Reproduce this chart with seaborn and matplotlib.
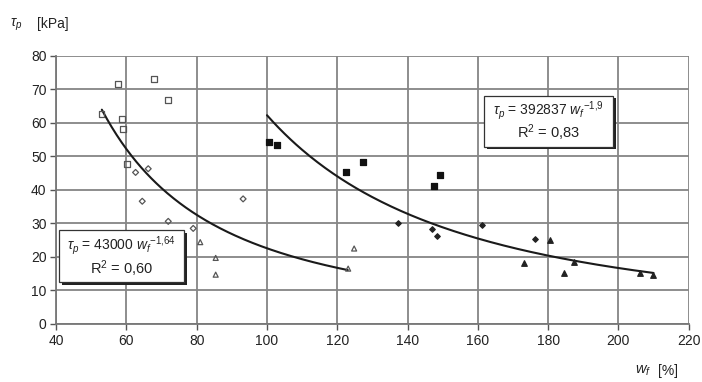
import numpy as np
import pandas as pd
import matplotlib
matplotlib.use("Agg")
import matplotlib.pyplot as plt
import seaborn as sns
from matplotlib.patches import Rectangle

# ---- data ----
open_sq_x = [52.9, 57.6, 58.6, 59.1, 60.2, 67.9, 71.9]
open_sq_y = [62.7, 71.7, 61.2, 58.2, 47.7, 73.2, 66.9]
open_di_x = [62.6, 64.5, 66.2, 71.9, 79.0, 93.2]
open_di_y = [45.2, 36.6, 46.3, 30.6, 28.5, 37.3]
open_tr_x = [81.0, 85.4, 85.4, 123.1, 124.8]
open_tr_y = [24.4, 19.7, 14.7, 16.5, 22.5]
fill_sq_x = [100.6, 102.9, 122.4, 127.4, 147.6, 149.2]
fill_sq_y = [54.2, 53.3, 45.3, 48.2, 41.1, 44.3]
fill_di_x = [137.2, 147.1, 148.4, 161.3, 176.4]
fill_di_y = [30.2, 28.4, 26.2, 29.4, 25.2]
fill_tr_x = [173.1, 180.6, 184.6, 187.3, 206.1, 209.9]
fill_tr_y = [18.2, 25.0, 15.1, 18.6, 15.1, 14.6]

# trend lines as stated on the chart: tau = a * w^b
left_a, left_b, left_range = 43000, -1.64, (53, 123)
right_a, right_b, right_range = 392837, -1.9, (100, 210)
left_label = [r"$\tau_p$ = 43000 $w_f$$^{-1{,}64}$", r"R$^2$ = 0,60"]
right_label = [r"$\tau_p$ = 392837 $w_f$$^{-1{,}9}$", r"R$^2$ = 0,83"]

x_ticks = list(range(40, 221, 20))
y_ticks = list(range(0, 81, 10))

sns.set_theme(style="white")
plt.rcParams['font.family'] = ['Liberation Sans', 'DejaVu Sans']
plt.rcParams['mathtext.fontset'] = 'custom'
plt.rcParams['mathtext.rm'] = 'Liberation Sans'
plt.rcParams['mathtext.it'] = 'Liberation Sans:italic'

fig = plt.figure(figsize=(7.02, 3.82), dpi=100)
ax = fig.add_axes([0.080, 0.152, 0.901, 0.702])

groups = [
    (open_sq_x, open_sq_y, "s", "none", "#555555", 4.3),
    (open_di_x, open_di_y, "D", "none", "#555555", 3.0),
    (open_tr_x, open_tr_y, "^", "none", "#555555", 3.6),
    (fill_sq_x, fill_sq_y, "s", "#111111", "#111111", 4.6),
    (fill_di_x, fill_di_y, "D", "#222222", "#222222", 2.8),
    (fill_tr_x, fill_tr_y, "^", "#222222", "#222222", 4.0),
]
for gx, gy, m, fc, ec, s in groups:
    df = pd.DataFrame({"w": gx, "tau": gy})
    sns.scatterplot(data=df, x="w", y="tau", ax=ax, marker=m, s=s**2,
                    facecolor=fc, edgecolor=ec, linewidth=0.9, zorder=4)

for a, b, (x0, x1) in [(left_a, left_b, left_range), (right_a, right_b, right_range)]:
    xs = np.linspace(x0, x1, 200)
    sns.lineplot(x=xs, y=a * xs ** b, ax=ax, color="#1a1a1a", lw=1.5, zorder=3)

ax.set_xlim(40, 220)
ax.set_ylim(0, 80)
ax.set_xticks(x_ticks)
ax.set_yticks(y_ticks)
ax.grid(True, color="#858585", lw=1.3)
ax.set_axisbelow(True)
for side in ["top", "right"]:
    ax.spines[side].set_visible(False)
for side in ["left", "bottom"]:
    ax.spines[side].set_color("#777777")
    ax.spines[side].set_linewidth(1.3)
ax.tick_params(axis="both", direction="out", length=4, width=1.0, color="#555555",
               labelsize=10, labelcolor="#222222", pad=3, left=True, bottom=True)
ax.set_xlabel("")
ax.set_ylabel("")

# equation boxes with drop shadow
def eq_box(x0, x1, y0, y1, lines):
    dx, dy = 0.9, -0.7
    ax.add_patch(Rectangle((x0 + dx, y0 + dy), x1 - x0, y1 - y0, facecolor="#222222",
                           edgecolor="none", zorder=5))
    ax.add_patch(Rectangle((x0, y0), x1 - x0, y1 - y0, facecolor="white",
                           edgecolor="#333333", lw=0.9, zorder=6))
    xm = (x0 + x1) / 2
    h = y1 - y0
    ax.text(xm, y0 + h * 0.70, lines[0], ha="center", va="center", fontsize=10,
            color="#222222", zorder=7)
    ax.text(xm, y0 + h * 0.27, lines[1], ha="center", va="center", fontsize=10.5,
            color="#222222", zorder=7)

eq_box(40.8, 76.3, 12.4, 27.9, left_label)
eq_box(161.7, 198.4, 52.9, 68.1, right_label)

fig.text(0.014, 0.935, r"$\tau_p$", fontsize=10, color="#222222", va="center")
fig.text(0.052, 0.938, "[kPa]", fontsize=10, color="#222222", va="center")
fig.text(0.905, 0.030, r"$w_f$", fontsize=10.5, color="#222222", va="center")
fig.text(0.937, 0.030, "[%]", fontsize=10, color="#222222", va="center")

fig.savefig("out.png", dpi=100, facecolor="white")
